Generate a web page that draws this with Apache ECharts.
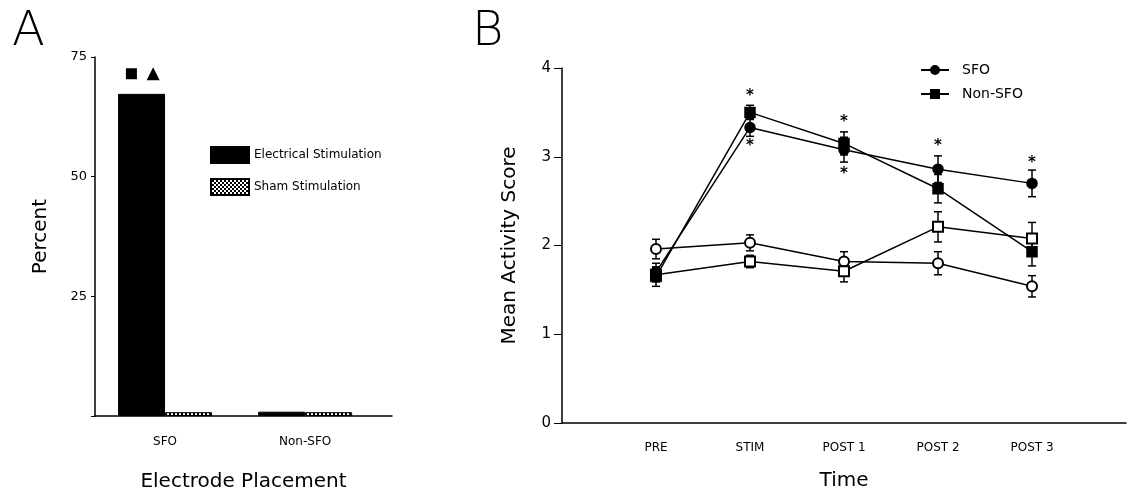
<!DOCTYPE html>
<html>
<head>
<meta charset="utf-8">
<title>Electrode placement / activity score</title>
<script src="https://cdn.jsdelivr.net/npm/echarts@6/dist/echarts.min.js"></script>
<style>
    html, body { margin: 0; padding: 0; background: #fff; }
    #main { width: 1129px; height: 497px; }
</style>
</head>
<body>
<div id="main"></div>
<script>
// Panel A data
var placement = ['SFO', 'Non-SFO'];
var electrical = [67.3, 0.9];
var sham = [0.8, 0.8];
var percentTicks = [0, 25, 50, 75];
var sigSquare = [[0.76, 71.5]];
var sigTriangle = [[0.915, 71.5]];

// Panel B data
var timeLabels = ['PRE', 'STIM', 'POST 1', 'POST 2', 'POST 3'];
var sfoStim = [1.70, 3.33, 3.08, 2.86, 2.70];
var sfoStimErr = [0.10, 0.10, 0.14, 0.15, 0.15];
var nonSfoStim = [1.65, 3.50, 3.15, 2.64, 1.93];
var nonSfoStimErr = [0.11, 0.08, 0.13, 0.16, 0.16];
var sfoSham = [1.96, 2.03, 1.82, 1.80, 1.54];
var sfoShamErr = [0.11, 0.09, 0.11, 0.13, 0.12];
var nonSfoSham = [1.67, 1.82, 1.71, 2.21, 2.08];
var nonSfoShamErr = [0.08, 0.07, 0.12, 0.17, 0.18];
var stars = [[2, 3.68], [2, 3.12], [3, 3.39], [3, 2.81], [4, 3.12], [5, 2.93]];

var FONT = '"DejaVu Sans", "Noto Sans", sans-serif';

// crosshatch fill for sham bars
var hatch = document.createElement('canvas');
hatch.width = 4;
hatch.height = 4;
var hctx = hatch.getContext('2d');
hctx.fillStyle = '#fff';
hctx.fillRect(0, 0, 4, 4);
hctx.fillStyle = '#000';
[[0, 0], [1, 1], [2, 2], [3, 3], [3, 0], [2, 1], [1, 2], [0, 3]].forEach(function (p) {
    hctx.fillRect(p[0], p[1], 1, 1);
});

function pts(values) {
    return values.map(function (v, i) { return [i + 1, v]; });
}

function errData(values, errs) {
    return values.map(function (v, i) { return [i + 1, v - errs[i], v + errs[i]]; });
}

function errSeries(name, values, errs) {
    return {
        name: name + ' err',
        type: 'custom',
        xAxisIndex: 1,
        yAxisIndex: 1,
        z: 1,
        silent: true,
        data: errData(values, errs),
        renderItem: function (params, api) {
            var lo = api.coord([api.value(0), api.value(1)]);
            var hi = api.coord([api.value(0), api.value(2)]);
            var w = 4;
            var st = { stroke: '#000', lineWidth: 1.5 };
            return {
                type: 'group',
                children: [
                    { type: 'line', shape: { x1: lo[0], y1: lo[1], x2: hi[0], y2: hi[1] }, style: st },
                    { type: 'line', shape: { x1: lo[0] - w, y1: lo[1], x2: lo[0] + w, y2: lo[1] }, style: st },
                    { type: 'line', shape: { x1: hi[0] - w, y1: hi[1], x2: hi[0] + w, y2: hi[1] }, style: st }
                ]
            };
        }
    };
}

function lineSeries(name, values, symbol) {
    return {
        name: name,
        type: 'line',
        xAxisIndex: 1,
        yAxisIndex: 1,
        z: 3,
        data: pts(values),
        symbol: symbol,
        symbolSize: 10,
        showAllSymbol: true,
        lineStyle: { color: '#000', width: 1.5 },
        itemStyle: { color: '#000', borderColor: '#000', borderWidth: 1.5 },
        emphasis: { disabled: true }
    };
}

var chart = echarts.init(document.getElementById('main'), null, { renderer: 'canvas' });

var option = {
    animation: false,
    backgroundColor: '#fff',
    textStyle: { fontFamily: FONT, color: '#000' },
    graphic: [
        { type: 'text', left: 12, top: 9, style: { text: 'A', font: '200 48px ' + FONT, fill: '#000' } },
        { type: 'text', left: 472, top: 9, style: { text: 'B', font: '200 48px ' + FONT, fill: '#000' } }
    ],
    legend: [
        {
            orient: 'vertical',
            left: 205,
            top: 141,
            icon: 'rect',
            itemWidth: 38,
            itemHeight: 16,
            itemGap: 14,
            data: ['Electrical Stimulation', 'Sham Stimulation'],
            textStyle: { fontFamily: FONT, fontSize: 12, color: '#000' }
        },
        {
            orient: 'vertical',
            left: 915,
            top: 58,
            itemWidth: 28,
            itemHeight: 10,
            itemGap: 10,
            data: ['SFO', 'Non-SFO'],
            textStyle: { fontFamily: FONT, fontSize: 14, color: '#000', padding: [0, 0, 0, 8] }
        }
    ],
    grid: [
        { left: 95, top: 57, width: 297, height: 361 },
        { left: 562, top: 68, width: 572, height: 355 }
    ],
    xAxis: [
        {
            type: 'value',
            gridIndex: 0,
            min: 0.5,
            max: 2.62,
            interval: 0.5,
            name: 'Electrode Placement',
            nameLocation: 'middle',
            nameGap: 56,
            nameTextStyle: { fontFamily: FONT, fontSize: 20, color: '#000' },
            axisLine: { lineStyle: { color: '#000', width: 1.5 } },
            axisTick: { show: false },
            splitLine: { show: false },
            axisLabel: {
                margin: 20,
                fontSize: 12,
                color: '#000',
                fontFamily: FONT,
                formatter: function (v) {
                    var i = Math.round(v) - 1;
                    return (Math.abs(v - Math.round(v)) < 1e-6 && placement[i]) ? placement[i] : '';
                }
            }
        },
        {
            type: 'value',
            gridIndex: 1,
            min: 0,
            max: 6,
            interval: 1,
            name: 'Time',
            nameLocation: 'middle',
            nameGap: 48,
            nameTextStyle: { fontFamily: FONT, fontSize: 20, color: '#000' },
            axisLine: { lineStyle: { color: '#000', width: 1.5 } },
            axisTick: { show: false },
            splitLine: { show: false },
            axisLabel: {
                margin: 19,
                fontSize: 12,
                color: '#000',
                fontFamily: FONT,
                formatter: function (v) { return timeLabels[v - 1] || ''; }
            }
        }
    ],
    yAxis: [
        {
            type: 'value',
            gridIndex: 0,
            min: 0,
            max: 75,
            interval: 25,
            name: 'Percent',
            nameLocation: 'middle',
            nameGap: 44,
            nameRotate: 90,
            nameTextStyle: { fontFamily: FONT, fontSize: 20, color: '#000' },
            axisLine: { show: true, lineStyle: { color: '#000', width: 1.5 } },
            axisTick: { show: true, length: 4, lineStyle: { color: '#000' } },
            splitLine: { show: false },
            axisLabel: {
                margin: 8,
                fontSize: 13,
                color: '#000',
                fontFamily: FONT,
                formatter: function (v) { return v === percentTicks[0] ? '' : v; }
            }
        },
        {
            type: 'value',
            gridIndex: 1,
            min: 0,
            max: 4,
            interval: 1,
            name: 'Mean Activity Score',
            nameLocation: 'middle',
            nameGap: 42,
            nameRotate: 90,
            nameTextStyle: { fontFamily: FONT, fontSize: 20, color: '#000' },
            axisLine: { show: true, lineStyle: { color: '#000', width: 1.5 } },
            axisTick: { show: true, length: 8, lineStyle: { color: '#000' } },
            splitLine: { show: false },
            axisLabel: { margin: 11, fontSize: 15, color: '#000', fontFamily: FONT }
        }
    ],
    series: [
        {
            name: 'Electrical Stimulation',
            type: 'bar',
            xAxisIndex: 0,
            yAxisIndex: 0,
            barWidth: 47,
            barGap: '0%',
            data: electrical.map(function (v, i) { return [i + 1, v]; }),
            itemStyle: { color: '#000', borderColor: '#000', borderWidth: 1 }
        },
        {
            name: 'Sham Stimulation',
            type: 'bar',
            xAxisIndex: 0,
            yAxisIndex: 0,
            barWidth: 47,
            barGap: '0%',
            data: sham.map(function (v, i) { return [i + 1, v]; }),
            itemStyle: { color: { image: hatch, repeat: 'repeat' }, borderColor: '#000', borderWidth: 1 }
        },
        {
            name: 'sig square',
            type: 'scatter',
            xAxisIndex: 0,
            yAxisIndex: 0,
            symbol: 'rect',
            symbolSize: 11,
            data: sigSquare,
            itemStyle: { color: '#000', opacity: 1 }
        },
        {
            name: 'sig triangle',
            type: 'scatter',
            xAxisIndex: 0,
            yAxisIndex: 0,
            symbol: 'triangle',
            symbolSize: 13,
            data: sigTriangle,
            itemStyle: { color: '#000', opacity: 1 }
        },
        errSeries('SFO', sfoStim, sfoStimErr),
        errSeries('Non-SFO', nonSfoStim, nonSfoStimErr),
        errSeries('SFO sham', sfoSham, sfoShamErr),
        errSeries('Non-SFO sham', nonSfoSham, nonSfoShamErr),
        lineSeries('SFO sham', sfoSham, 'emptyCircle'),
        lineSeries('Non-SFO sham', nonSfoSham, 'emptyRect'),
        lineSeries('SFO', sfoStim, 'circle'),
        lineSeries('Non-SFO', nonSfoStim, 'rect'),
        {
            name: 'significance',
            type: 'custom',
            xAxisIndex: 1,
            yAxisIndex: 1,
            z: 4,
            silent: true,
            data: stars,
            renderItem: function (params, api) {
                var p = api.coord([api.value(0), api.value(1)]);
                return {
                    type: 'text',
                    x: p[0],
                    y: p[1],
                    style: {
                        text: '*',
                        font: 'bold 15px ' + FONT,
                        fill: '#000',
                        align: 'center',
                        verticalAlign: 'middle'
                    }
                };
            }
        }
    ]
};

chart.setOption(option);
window.addEventListener('resize', function () {
    chart.resize();
});
</script>
</body>
</html>
